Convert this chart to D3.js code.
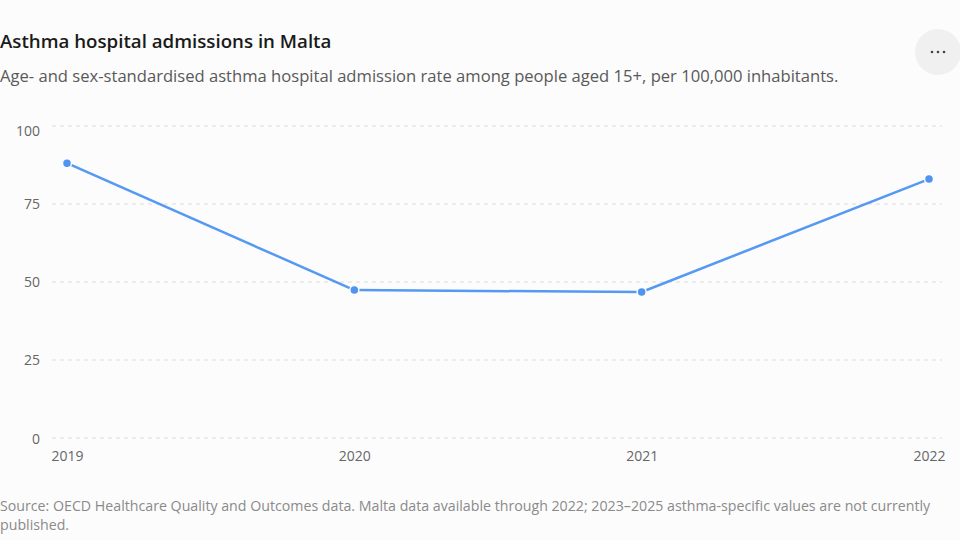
<!DOCTYPE html>
<html>
<head>
<meta charset="utf-8">
<script src="https://cdn.jsdelivr.net/npm/d3@7"></script>
<style>
  html, body { margin: 0; padding: 0; background: #fcfcfc; }
  body { width: 960px; height: 540px; overflow: hidden; font-family: "Segoe UI", "Open Sans", "Noto Sans", sans-serif; }
</style>
</head>
<body>
<svg id="chart" width="960" height="540"></svg>
<script>
// asthma admissions, Malta (per 100,000, age 15+)
var years = ["2019", "2020", "2021", "2022"];
var rates = [88.1, 47.4, 46.8, 83.0];
var yTicks = [0, 25, 50, 75, 100];

var titleText = "Asthma hospital admissions in Malta";
var subtitleText = "Age- and sex-standardised asthma hospital admission rate among people aged 15+, per 100,000 inhabitants.";
var sourceLines = [
    "Source: OECD Healthcare Quality and Outcomes data. Malta data available through 2022; 2023\u20132025 asthma-specific values are not currently",
    "published."
];

var svg = d3.select("#chart");
var font = "'Segoe UI', 'Open Sans', 'Noto Sans', sans-serif";

//header
svg.append("text")
    .attr("x", 0).attr("y", 48)
    .attr("font-family", font).attr("font-size", 18.7).attr("font-weight", 600)
    .attr("fill", "#1a1a1a")
    .text(titleText);

svg.append("text")
    .attr("x", 0).attr("y", 82)
    .attr("font-family", font).attr("font-size", 16.6)
    .attr("fill", "#595959")
    .text(subtitleText);

//menu button
var btn = svg.append("g").attr("transform", "translate(938,52)");
btn.append("circle").attr("r", 23).attr("fill", "#f0f0f0");
btn.selectAll("circle.dot")
    .data([-6, 0, 6])
    .enter().append("circle")
    .attr("class", "dot")
    .attr("cx", function(d) { return d; })
    .attr("cy", 0)
    .attr("r", 1.3)
    .attr("fill", "#444");

//scales
var x = d3.scalePoint().domain(years).range([67, 929]);
var y = d3.scaleLinear().domain([0, 100]).range([438, 126]);

//gridlines
svg.append("g").selectAll("line")
    .data(yTicks)
    .enter().append("line")
    .attr("x1", 52).attr("x2", 942)
    .attr("y1", function(d) { return y(d); })
    .attr("y2", function(d) { return y(d); })
    .attr("stroke", "#dcdcdc")
    .attr("stroke-width", 1)
    .attr("stroke-dasharray", "4,4");

//y axis labels (top one is nudged down so it doesn't get clipped)
var yAxis = svg.append("g")
    .attr("transform", "translate(40,0)")
    .call(d3.axisLeft(y).tickValues(yTicks).tickSize(0).tickPadding(0));
yAxis.select(".domain").remove();
yAxis.selectAll("text")
    .attr("font-family", font).attr("font-size", 14)
    .attr("fill", "#666")
    .attr("y", function(d) { return d === 100 ? 5 : (d === 0 ? 1.5 : 0.5); });

//x axis labels
var xAxis = svg.append("g")
    .attr("transform", "translate(0,451)")
    .call(d3.axisBottom(x).tickSize(0).tickPadding(0));
xAxis.select(".domain").remove();
xAxis.selectAll("text")
    .attr("font-family", font).attr("font-size", 14)
    .attr("fill", "#666");

//line
var line = d3.line()
    .x(function(d, i) { return x(years[i]); })
    .y(function(d) { return y(d); });

svg.append("path")
    .datum(rates)
    .attr("d", line)
    .attr("fill", "none")
    .attr("stroke", "#5599f2")
    .attr("stroke-width", 2.5)
    .attr("stroke-linejoin", "round");

svg.append("g").selectAll("circle")
    .data(rates)
    .enter().append("circle")
    .attr("cx", function(d, i) { return x(years[i]); })
    .attr("cy", function(d) { return y(d); })
    .attr("r", 4.5)
    .attr("fill", "#4f94f0")
    .attr("stroke", "#fcfcfc")
    .attr("stroke-width", 1.5);

//footer
svg.append("g").selectAll("text")
    .data(sourceLines)
    .enter().append("text")
    .attr("x", 0)
    .attr("y", function(d, i) { return 511 + i * 19; })
    .attr("font-family", font).attr("font-size", 14.2)
    .attr("fill", "#8a8a8a")
    .text(function(d) { return d; });
</script>
</body>
</html>
